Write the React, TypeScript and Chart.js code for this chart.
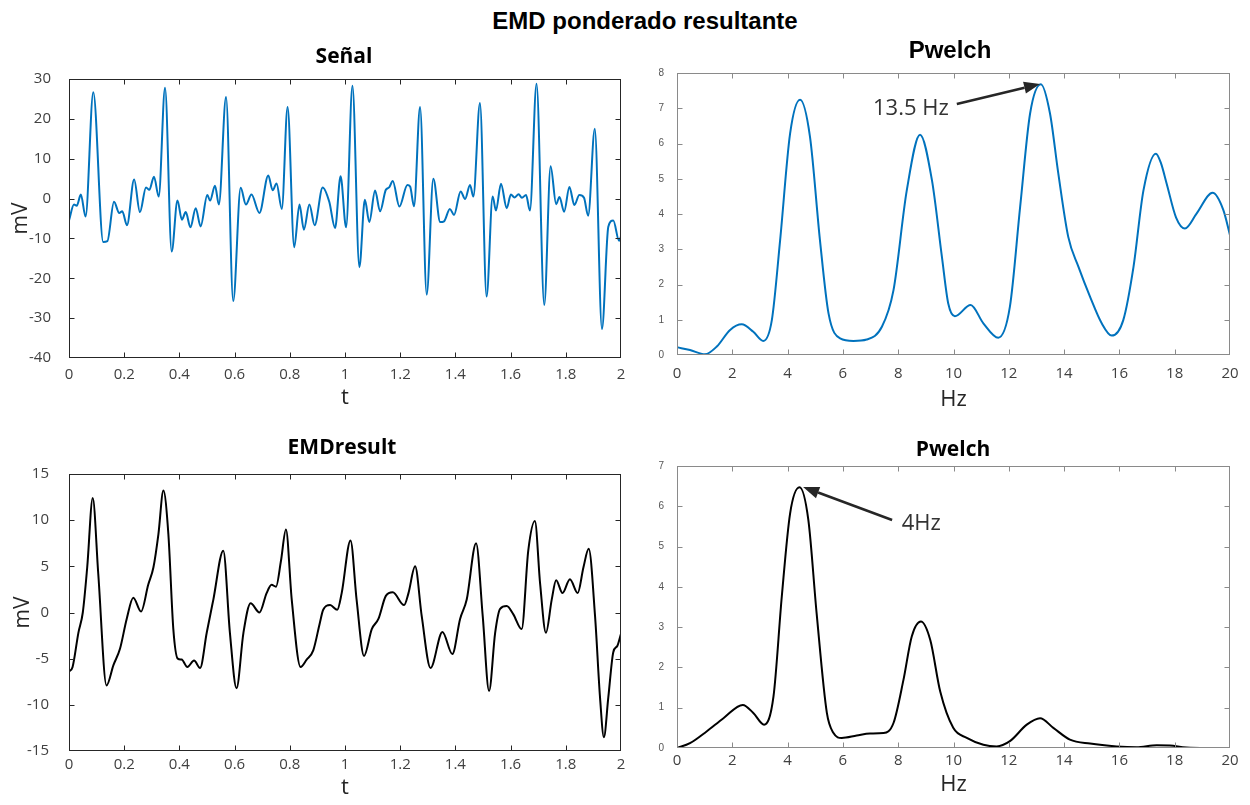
import React, { useEffect, useRef } from "react";
import { Chart, registerables } from "chart.js";

Chart.register(...registerables);

// ---- Data (t in s, values in mV) ----
const signalMv: [number, number][] = [
  [0, -5.5], [0.018, -1.5], [0.028, -1.8], [0.043, 1.0], [0.06, -4.5], [0.088, 26.7], [0.124, -10.9], [0.139, -10.7],
  [0.163, -0.8], [0.182, -3.6], [0.193, -3.2], [0.21, -6.7], [0.236, 4.8], [0.257, -3.4], [0.279, 2.8], [0.291, 2.2],
  [0.308, 5.5], [0.325, 0.5], [0.348, 27.8], [0.372, -13.3], [0.393, -0.5], [0.409, -5.3], [0.423, -3.4], [0.44, -7.2],
  [0.459, -2.4], [0.477, -7.0], [0.501, 0.9], [0.511, -0.5], [0.529, 3.2], [0.543, -1.5], [0.569, 25.5], [0.595, -25.7],
  [0.622, 2.7], [0.641, -1.5], [0.661, 1.0], [0.69, -3.6], [0.722, 5.8], [0.738, 2.1], [0.752, 3.8], [0.771, -2.6],
  [0.792, 23.0], [0.816, -12.2], [0.835, -1.5], [0.851, -7.8], [0.871, -1.5], [0.89, -6.7], [0.919, 2.8], [0.943, -0.8],
  [0.964, -7.4], [0.984, 5.6], [1.004, -7.2], [1.027, 28.3], [1.052, -17.2], [1.072, -0.3], [1.088, -5.9], [1.109, 2.0],
  [1.127, -3.2], [1.148, 2.2], [1.16, 2.8], [1.173, 4.4], [1.197, -2.0], [1.226, 3.4], [1.236, 3.0], [1.25, -1.9],
  [1.272, 23.0], [1.296, -24.1], [1.32, 5.0], [1.345, -5.9], [1.359, -5.7], [1.38, -2.6], [1.395, -4.1], [1.419, 1.8],
  [1.435, -0.1], [1.453, 3.4], [1.465, 0.5], [1.489, 24.0], [1.513, -24.6], [1.535, 0.5], [1.547, -3.0], [1.565, 3.7],
  [1.586, -2.4], [1.601, 1.0], [1.614, 0.3], [1.629, 1.1], [1.641, 0.2], [1.656, 0.9], [1.67, -3.0], [1.694, 28.8],
  [1.722, -26.7], [1.745, 8.1], [1.765, -1.4], [1.777, 0.4], [1.794, -3.3], [1.813, 2.9], [1.831, -1.6], [1.849, 0.9],
  [1.866, 0.2], [1.881, -4.3], [1.905, 17.5], [1.931, -32.7], [1.954, -7.1], [1.972, -5.5], [1.993, -10.6], [2.0, -9.5],
];

const emdResultMv: [number, number][] = [
  [0, -6.4], [0.013, -5.9], [0.034, -2.2], [0.05, 0], [0.066, 4.9], [0.086, 12.4], [0.106, 4.2], [0.136, -7.9],
  [0.161, -5.7], [0.185, -3.9], [0.209, -0.7], [0.233, 1.6], [0.261, 0.1], [0.287, 3.0], [0.306, 4.9], [0.324, 8.5],
  [0.342, 13.2], [0.36, 8.5], [0.378, -1.8], [0.394, -5.0], [0.408, -5.1], [0.429, -5.9], [0.453, -5.2], [0.475, -6.0],
  [0.499, -2.2], [0.523, 1.4], [0.559, 6.7], [0.583, -2.2], [0.607, -8.2], [0.632, -2.2], [0.658, 1.0], [0.69, 0],
  [0.716, 2.1], [0.734, 3.0], [0.75, 2.8], [0.768, 5.6], [0.786, 9.0], [0.807, 1.4], [0.839, -5.9], [0.861, -5.1],
  [0.885, -4.1], [0.909, -1.1], [0.921, 0.3], [0.946, 0.8], [0.972, 0.3], [0.988, 2.1], [1.02, 7.8], [1.042, 1.4],
  [1.069, -4.7], [1.097, -1.8], [1.121, -0.7], [1.148, 1.8], [1.173, 2.2], [1.214, 0.8], [1.23, 2.1], [1.254, 5.0],
  [1.278, -0.4], [1.31, -6.0], [1.353, -2.1], [1.389, -4.5], [1.417, -0.7], [1.441, 1.4], [1.475, 7.5], [1.499, -0.4],
  [1.522, -8.5], [1.544, -2.2], [1.562, 0.4], [1.586, 0.7], [1.61, -0.2], [1.64, -1.8], [1.664, 6.7], [1.688, 9.9],
  [1.707, 3.1], [1.728, -2.2], [1.749, 1.4], [1.765, 3.5], [1.788, 2.1], [1.815, 3.6], [1.843, 2.1], [1.864, 4.9],
  [1.883, 6.9], [1.906, -0.4], [1.924, -9.2], [1.938, -13.5], [1.954, -9.2], [1.972, -4.3], [1.987, -3.6], [2.0, -2.3],
];

// ---- Welch spectra (Hz, power) ----
const signalPsd: [number, number][] = [
  [0, 0.22], [0.47, 0.14], [1.01, 0.02], [1.44, 0.24], [1.92, 0.71], [2.34, 0.87], [2.76, 0.66], [3.12, 0.4],
  [3.43, 0.99], [3.73, 3.26], [4.09, 6.28], [4.45, 7.24], [4.81, 6.19], [5.17, 3.26], [5.48, 1.18], [5.9, 0.47],
  [6.38, 0.4], [6.86, 0.44], [7.41, 0.8], [7.83, 1.84], [8.31, 4.67], [8.79, 6.25], [9.22, 4.96], [9.58, 2.79],
  [9.81, 1.46], [10.05, 1.1], [10.62, 1.42], [11.08, 0.9], [11.62, 0.49], [12.04, 1.37], [12.41, 4.2], [12.77, 6.85],
  [13.16, 7.68], [13.49, 6.85], [13.79, 5.15], [14.15, 3.35], [14.52, 2.5], [14.94, 1.65], [15.36, 0.9], [15.72, 0.55],
  [16.14, 0.99], [16.51, 2.5], [16.87, 4.67], [17.32, 5.71], [17.5, 5.45], [17.71, 4.86], [18.05, 3.9], [18.37, 3.59],
  [18.79, 4.01], [19.37, 4.6], [19.76, 4.11], [20, 3.4],
];

const emdPsd: [number, number][] = [
  [0, 0], [0.47, 0.12], [1.07, 0.41], [1.68, 0.74], [2.38, 1.07], [2.76, 0.87], [3.15, 0.58], [3.49, 1.28],
  [3.79, 3.76], [4.09, 5.82], [4.43, 6.47], [4.75, 5.66], [5.05, 3.34], [5.42, 0.87], [5.66, 0.37], [5.96, 0.25],
  [6.5, 0.31], [6.98, 0.36], [7.47, 0.37], [7.83, 0.62], [8.19, 1.69], [8.49, 2.77], [8.82, 3.14], [9.16, 2.68],
  [9.52, 1.4], [9.99, 0.5], [10.48, 0.25], [11.08, 0.08], [11.56, 0.04], [12.04, 0.17], [12.65, 0.58], [13.13, 0.74],
  [13.61, 0.5], [14.21, 0.21], [14.94, 0.11], [15.9, 0.04], [16.62, 0.02], [17.35, 0.07], [17.83, 0.06], [18.42, 0.01],
  [19.15, 0], [20, 0],
];

// ---- Tick values ----
const timeTicks = [0, 0.2, 0.4, 0.6, 0.8, 1, 1.2, 1.4, 1.6, 1.8, 2];
const freqTicks = [0, 2, 4, 6, 8, 10, 12, 14, 16, 18, 20];
const signalTicks = [-40, -30, -20, -10, 0, 10, 20, 30];
const emdTicks = [-15, -10, -5, 0, 5, 10, 15];
const signalPsdTicks = [0, 1, 2, 3, 4, 5, 6, 7, 8];
const emdPsdTicks = [0, 1, 2, 3, 4, 5, 6, 7];

// ---- Peak annotations (data coordinates) ----
type Note = { text: string; tip: [number, number]; tail: [number, number]; at: [number, number] };
const signalPeakNote: Note = { text: "13.5 Hz", tip: [13.13, 7.69], tail: [10.12, 7.12], at: [7.09, 6.98] };
const emdPeakNote: Note = { text: "4Hz", tip: [4.56, 6.48], tail: [7.78, 5.66], at: [8.13, 5.56] };

const SANS = "'Open Sans', 'Noto Sans', sans-serif";
const ARIAL = "'Liberation Sans', Arial, sans-serif";

const fmt = (v: number | string) => String(Number(Number(v).toFixed(2)));

function framePlugin(color: string) {
  return {
    id: "frame",
    afterDraw(chart: any) {
      const { ctx, chartArea: a, scales } = chart;
      const L = Math.round(a.left) + 0.5;
      const R = Math.round(a.right) - 0.5;
      const T = Math.round(a.top) + 0.5;
      const B = Math.round(a.bottom) - 0.5;
      const len = 5;
      ctx.save();
      ctx.strokeStyle = color;
      ctx.lineWidth = 1;
      ctx.strokeRect(L, T, R - L, B - T);
      ctx.beginPath();
      for (const t of scales.x.ticks) {
        const px = Math.round(scales.x.getPixelForValue(t.value)) + 0.5;
        if (px <= L + 1 || px >= R - 1) continue;
        ctx.moveTo(px, B);
        ctx.lineTo(px, B - len);
        ctx.moveTo(px, T);
        ctx.lineTo(px, T + len);
      }
      for (const t of scales.y.ticks) {
        const py = Math.round(scales.y.getPixelForValue(t.value)) + 0.5;
        if (py <= T + 1 || py >= B - 1) continue;
        ctx.moveTo(L, py);
        ctx.lineTo(L + len, py);
        ctx.moveTo(R, py);
        ctx.lineTo(R - len, py);
      }
      ctx.stroke();
      ctx.restore();
    },
  };
}

function notePlugin(note: Note) {
  return {
    id: "peakNote",
    afterDraw(chart: any) {
      const { ctx, scales } = chart;
      const X = (v: number) => scales.x.getPixelForValue(v);
      const Y = (v: number) => scales.y.getPixelForValue(v);
      const tx = X(note.tip[0]);
      const ty = Y(note.tip[1]);
      const sx = X(note.tail[0]);
      const sy = Y(note.tail[1]);
      const ang = Math.atan2(ty - sy, tx - sx);
      const headLen = 16;
      const headHalf = 6;
      const bx = tx - headLen * Math.cos(ang);
      const by = ty - headLen * Math.sin(ang);
      ctx.save();
      ctx.strokeStyle = "#262626";
      ctx.fillStyle = "#262626";
      ctx.lineWidth = 2.5;
      ctx.beginPath();
      ctx.moveTo(sx, sy);
      ctx.lineTo(bx, by);
      ctx.stroke();
      ctx.beginPath();
      ctx.moveTo(tx, ty);
      ctx.lineTo(bx + headHalf * Math.sin(ang), by - headHalf * Math.cos(ang));
      ctx.lineTo(bx - headHalf * Math.sin(ang), by + headHalf * Math.cos(ang));
      ctx.closePath();
      ctx.fill();
      ctx.font = `22px ${SANS}`;
      ctx.fillStyle = "#333333";
      ctx.textAlign = "left";
      ctx.textBaseline = "middle";
      ctx.fillText(note.text, X(note.at[0]), Y(note.at[1]));
      ctx.restore();
    },
  };
}

type PanelProps = {
  left: number;
  top: number;
  width: number;
  height: number;
  series: [number, number][];
  color: string;
  xMin: number;
  xMax: number;
  xTicks: number[];
  yTicks: number[];
  yWidth: number;
  xHeight: number;
  xTitle: string;
  xTitlePad: number;
  yTitle?: string;
  yTitlePad?: number;
  xTickPad: number;
  yTickPad: number;
  yTickFont: { family: string; size: number };
  yTickColor: string;
  frameColor: string;
  note?: Note;
};

function Panel(p: PanelProps) {
  const ref = useRef<HTMLCanvasElement | null>(null);
  useEffect(() => {
    if (!ref.current) return;
    const plugins: any[] = [framePlugin(p.frameColor)];
    if (p.note) plugins.push(notePlugin(p.note));
    const chart = new Chart(ref.current, {
      type: "line",
      data: {
        datasets: [
          {
            data: p.series.map(([x, y]) => ({ x, y })),
            borderColor: p.color,
            borderWidth: 2,
            pointRadius: 0,
            fill: false,
            cubicInterpolationMode: "monotone",
          },
        ],
      },
      options: {
        responsive: false,
        maintainAspectRatio: false,
        devicePixelRatio: 1,
        animation: false,
        events: [],
        layout: { padding: { top: 15, right: 15, left: 0, bottom: 0 } },
        plugins: { legend: { display: false }, tooltip: { enabled: false }, title: { display: false } },
        scales: {
          x: {
            type: "linear",
            min: p.xMin,
            max: p.xMax,
            grid: { display: false },
            border: { display: false },
            afterBuildTicks: (s: any) => {
              s.ticks = p.xTicks.map((v) => ({ value: v }));
            },
            afterFit: (s: any) => {
              s.height = p.xHeight;
            },
            ticks: {
              autoSkip: false,
              maxRotation: 0,
              padding: p.xTickPad,
              color: "#404040",
              font: { family: SANS, size: 15 },
              callback: (v: any) => fmt(v),
            },
            title: {
              display: true,
              text: p.xTitle,
              color: "#262626",
              font: { family: SANS, size: 22 },
              padding: { top: 0, bottom: p.xTitlePad },
            },
          },
          y: {
            type: "linear",
            min: p.yTicks[0],
            max: p.yTicks[p.yTicks.length - 1],
            grid: { display: false },
            border: { display: false },
            afterBuildTicks: (s: any) => {
              s.ticks = p.yTicks.map((v) => ({ value: v }));
            },
            afterFit: (s: any) => {
              s.width = p.yWidth;
            },
            ticks: {
              autoSkip: false,
              padding: p.yTickPad,
              color: p.yTickColor,
              font: p.yTickFont,
              callback: (v: any) => fmt(v),
            },
            title: {
              display: !!p.yTitle,
              text: p.yTitle || "",
              color: "#262626",
              font: { family: SANS, size: 21 },
              padding: { top: p.yTitlePad || 0, bottom: 0 },
            },
          },
        },
      } as any,
      plugins,
    });
    return () => chart.destroy();
  }, []);
  return (
    <canvas
      ref={ref}
      width={p.width}
      height={p.height}
      style={{ position: "absolute", left: p.left, top: p.top, width: p.width, height: p.height }}
    />
  );
}

const titleStyle = (x: number, y: number, font: string, size: number): React.CSSProperties => ({
  position: "absolute",
  left: x,
  top: y,
  transform: "translate(-50%, -50%)",
  fontFamily: font,
  fontWeight: 700,
  fontSize: size,
  color: "#000",
  whiteSpace: "nowrap",
  lineHeight: 1,
});

export default function App() {
  return (
    <div
      style={{
        position: "fixed",
        left: 0,
        top: 0,
        width: 1250,
        height: 805,
        background: "#fff",
        overflow: "hidden",
      }}
    >
      <Panel
        left={0}
        top={60}
        width={636}
        height={358}
        series={signalMv}
        color="#0072BD"
        xMin={0}
        xMax={2}
        xTicks={timeTicks}
        yTicks={signalTicks}
        yWidth={69}
        xHeight={60}
        xTitle="t"
        xTitlePad={7}
        yTitle="mV"
        yTitlePad={8}
        xTickPad={0}
        yTickPad={10}
        yTickFont={{ family: SANS, size: 15 }}
        yTickColor="#404040"
        frameColor="#262626"
      />
      <Panel
        left={637}
        top={58}
        width={608}
        height={357}
        series={signalPsd}
        color="#0072BD"
        xMin={0}
        xMax={20}
        xTicks={freqTicks}
        yTicks={signalPsdTicks}
        yWidth={40}
        xHeight={60}
        xTitle="Hz"
        xTitlePad={2}
        xTickPad={2}
        yTickPad={5}
        yTickFont={{ family: ARIAL, size: 10 }}
        yTickColor="#555555"
        frameColor="#8a8a8a"
        note={signalPeakNote}
      />
      <Panel
        left={0}
        top={453}
        width={636}
        height={352}
        series={emdResultMv}
        color="#000000"
        xMin={0}
        xMax={2}
        xTicks={timeTicks}
        yTicks={emdTicks}
        yWidth={69}
        xHeight={54}
        xTitle="t"
        xTitlePad={4}
        yTitle="mV"
        yTitlePad={10}
        xTickPad={-3}
        yTickPad={12}
        yTickFont={{ family: SANS, size: 15 }}
        yTickColor="#404040"
        frameColor="#262626"
      />
      <Panel
        left={637}
        top={451}
        width={608}
        height={354}
        series={emdPsd}
        color="#000000"
        xMin={0}
        xMax={20}
        xTicks={freqTicks}
        yTicks={emdPsdTicks}
        yWidth={40}
        xHeight={57}
        xTitle="Hz"
        xTitlePad={7}
        xTickPad={-4}
        yTickPad={5}
        yTickFont={{ family: ARIAL, size: 10 }}
        yTickColor="#555555"
        frameColor="#8a8a8a"
        note={emdPeakNote}
      />
      <div style={titleStyle(645, 21, ARIAL, 24)}>EMD ponderado resultante</div>
      <div style={titleStyle(344, 55, SANS, 21)}>Señal</div>
      <div style={titleStyle(950, 50, ARIAL, 24)}>Pwelch</div>
      <div style={titleStyle(342, 446, SANS, 21)}>EMDresult</div>
      <div style={titleStyle(953, 448, SANS, 21)}>Pwelch</div>
    </div>
  );
}
